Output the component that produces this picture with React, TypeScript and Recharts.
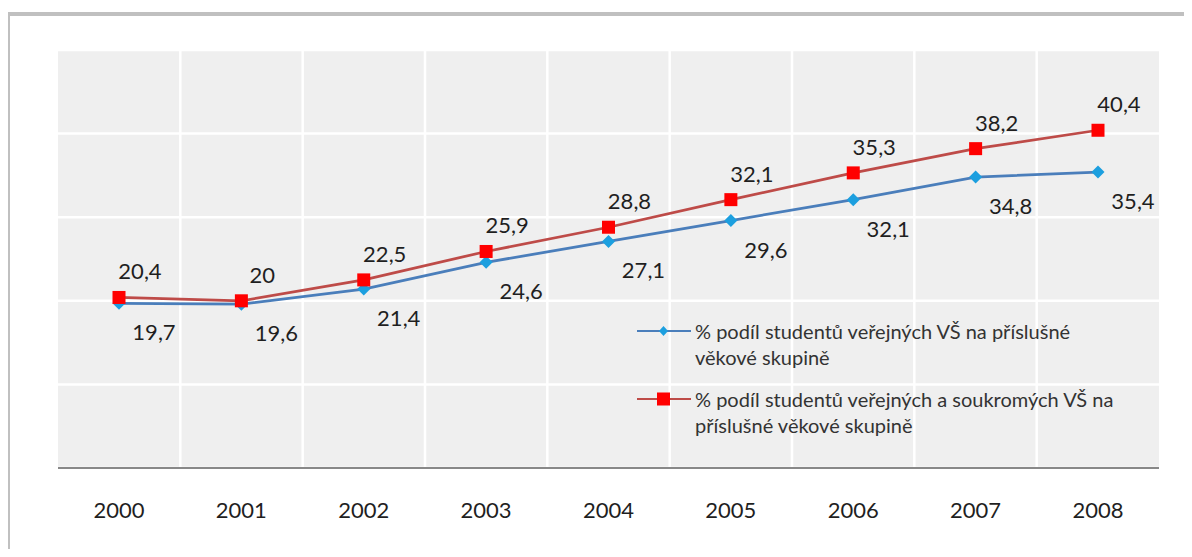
import { LineChart, Line, XAxis, YAxis, CartesianGrid, Legend, LabelList } from 'recharts';

const years = ['2000', '2001', '2002', '2003', '2004', '2005', '2006', '2007', '2008'];
const publicShare = [19.7, 19.6, 21.4, 24.6, 27.1, 29.6, 32.1, 34.8, 35.4];
const allShare = [20.4, 20, 22.5, 25.9, 28.8, 32.1, 35.3, 38.2, 40.4];
const publicName = '% podíl studentů veřejných VŠ na příslušné věkové skupině';
const allName = '% podíl studentů veřejných a soukromých VŠ na příslušné věkové skupině';
const yTicks = [0, 10, 20, 30, 40, 50];

const data = years.map((year, i) => ({
  year,
  publicShare: publicShare[i],
  allShare: allShare[i],
}));

const FONT = 'Lato, "Open Sans", sans-serif';
const BLUE_LINE = '#4a7ebb';
const BLUE_MARK = '#1c9fdf';
const RED_LINE = '#be4b48';
const RED_MARK = '#ff0000';

const fmt = (v: number) => String(v).replace('.', ',');

function Diamond({ cx, cy }: any) {
  if (cx == null || cy == null) return null;
  const r = 6.5;
  return <path d={`M${cx},${cy - r}L${cx + r},${cy}L${cx},${cy + r}L${cx - r},${cy}Z`} fill={BLUE_MARK} />;
}

function Square({ cx, cy }: any) {
  if (cx == null || cy == null) return null;
  return <rect x={cx - 6.5} y={cy - 6.5} width={13} height={13} fill={RED_MARK} />;
}

// value labels sit to the right of each point, above for red and below for blue
function makeLabel(dx: number, dy: number) {
  return ({ x, y, value }: any) => (
    <text x={x + dx} y={y + dy} textAnchor="middle" fontSize={22} fontFamily={FONT} fill="#1f1f1f">
      {fmt(value)}
    </text>
  );
}

function LegendContent({ payload }: any) {
  return (
    <div style={{ fontFamily: FONT, fontSize: 20, lineHeight: '26px', color: '#333' }}>
      {(payload || []).map((entry: any, i: number) => {
        const isRed = entry.dataKey === 'allShare';
        return (
          <div key={i} style={{ display: 'flex', alignItems: 'flex-start', marginBottom: 16 }}>
            <svg width={54} height={26} style={{ flex: 'none', marginRight: 4 }}>
              <line x1={0} y1={13} x2={54} y2={13} stroke={isRed ? RED_LINE : BLUE_LINE} strokeWidth={2} />
              {isRed ? (
                <rect x={20} y={6.5} width={13} height={13} fill={RED_MARK} />
              ) : (
                <path d="M26.5,8L31,13L26.5,18L22,13Z" fill={BLUE_MARK} />
              )}
            </svg>
            <div style={{ width: 423 }}>{entry.value}</div>
          </div>
        );
      })}
    </div>
  );
}

export default function App() {
  return (
    <div style={{ position: 'relative', width: 1192, height: 557, margin: -8, overflow: 'hidden', background: '#fff' }}>
      <div
        style={{
          position: 'absolute',
          left: 6,
          top: 12,
          width: 1300,
          height: 700,
          border: '4px solid #c0c0c0',
        }}
      />
      <div style={{ position: 'absolute', left: 0, top: 0 }}>
        <LineChart width={1192} height={557} data={data} margin={{ top: 50, right: 33, left: 58, bottom: 29 }}>
          <CartesianGrid
            fill="#efefef"
            stroke="#ffffff"
            strokeWidth={2.5}
            verticalCoordinatesGenerator={({ offset }: any) =>
              years.slice(1).map((_, i) => offset.left + ((i + 1) * offset.width) / years.length)
            }
          />
          <XAxis
            dataKey="year"
            height={60}
            padding={{ left: 61, right: 61 }}
            tickSize={0}
            tickMargin={34}
            axisLine={{ stroke: '#888888', strokeWidth: 2 }}
            tickLine={false}
            tick={{ fontSize: 22, fontFamily: FONT, fill: '#1f1f1f' }}
          />
          <YAxis hide domain={[0, 50]} ticks={yTicks} />
          <Legend
            layout="vertical"
            align="center"
            verticalAlign="middle"
            content={<LegendContent />}
            wrapperStyle={{ left: 637, top: 318, width: 520 }}
          />
          <Line
            dataKey="publicShare"
            name={publicName}
            stroke={BLUE_LINE}
            strokeWidth={2.75}
            dot={<Diamond />}
            isAnimationActive={false}
          >
            <LabelList dataKey="publicShare" content={makeLabel(35, 37)} />
          </Line>
          <Line
            dataKey="allShare"
            name={allName}
            stroke={RED_LINE}
            strokeWidth={2.75}
            dot={<Square />}
            isAnimationActive={false}
          >
            <LabelList dataKey="allShare" content={makeLabel(21, -18)} />
          </Line>
        </LineChart>
      </div>
    </div>
  );
}
